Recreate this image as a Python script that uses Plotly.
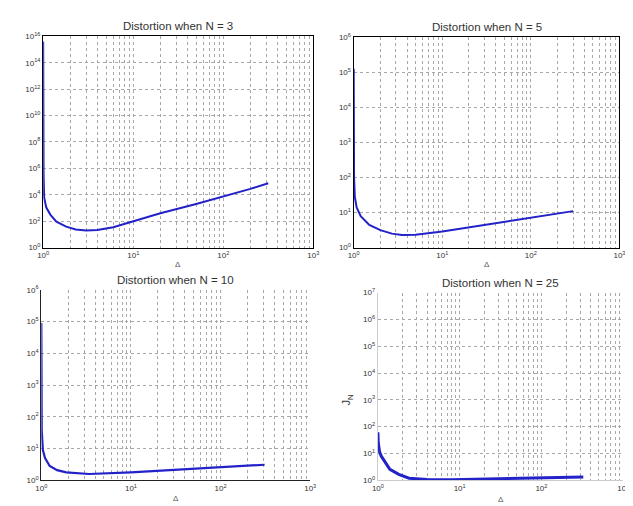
import plotly.graph_objects as go

# ---------------- data ----------------
titles = ["Distortion when N = 3", "Distortion when N = 5",
          "Distortion when N = 10", "Distortion when N = 25"]

x_n3 = [1.0, 1.002, 1.01, 1.025, 1.08, 1.2, 1.4, 1.8, 2.3, 3.0, 4.0, 6.0, 10, 20, 50, 100, 200, 316]
y_n3 = [3.98e15, 1e10, 3.16e5, 6310, 1122, 316, 91, 39, 24, 19.5, 21.4, 35.5, 100, 398, 1995, 7080, 28200, 74100]

x_n5 = [1.0, 1.002, 1.01, 1.03, 1.08, 1.2, 1.5, 2.0, 2.7, 3.5, 5, 10, 20, 50, 100, 300]
y_n5 = [1.26e5, 3160, 100, 28.2, 14.1, 7.9, 4.47, 3.16, 2.51, 2.29, 2.34, 2.88, 3.8, 5.37, 7.24, 11.0]

x_n10 = [1.0, 1.002, 1.01, 1.04, 1.1, 1.24, 1.5, 1.9, 3.4, 10, 30, 100, 310]
y_n10 = [8.9e4, 1000, 39.8, 8.9, 5.0, 2.82, 2.09, 1.78, 1.58, 1.78, 2.09, 2.51, 3.09]

x_n25 = [1.0, 1.01, 1.05, 1.1, 1.4, 1.8, 2.4, 4, 8, 20, 60, 325]
y_n25 = [61.7, 25.1, 11.2, 7.94, 2.57, 1.66, 1.20, 1.07, 1.05, 1.10, 1.17, 1.32]

x_decades = [0, 1, 2, 3]
x_minor_mult = [2, 3, 4, 5, 6, 7, 8, 9]
y_decades_n3 = [0, 2, 4, 6, 8, 10, 12, 14, 16]
y_decades_n5 = [0, 1, 2, 3, 4, 5, 6]
y_decades_n10 = [0, 1, 2, 3, 4, 5, 6]
y_decades_n25 = [0, 1, 2, 3, 4, 5, 6, 7]

# ---------------- figure ----------------
FONT = "Liberation Sans, Arial, sans-serif"
BLUE = "#2222c8"
GRID = "#a8a8a8"

fig = go.Figure()
series = [(x_n3, y_n3, 2), (x_n5, y_n5, 2), (x_n10, y_n10, 2.2), (x_n25, y_n25, 3)]
for i, (xs, ys, w) in enumerate(series):
    sfx = "" if i == 0 else str(i + 1)
    fig.add_trace(go.Scatter(x=xs, y=ys, mode="lines",
                             line=dict(color=BLUE, width=w),
                             xaxis="x" + sfx, yaxis="y" + sfx,
                             showlegend=False, hoverinfo="skip"))

def sup(e):
    return "10<sup>%d</sup>" % e

x_major = [10 ** d for d in x_decades]
x_minor = [m * 10 ** d for d in x_decades[:-1] for m in x_minor_mult]

domains = [
    ([0.047, 0.482], [0.528, 0.955]),
    ([0.547, 0.975], [0.528, 0.953]),
    ([0.044, 0.477], [0.058, 0.443]),
    ([0.586, 0.981], [0.058, 0.437]),
]
ydecs = [y_decades_n3, y_decades_n5, y_decades_n10, y_decades_n25]
linecols = ["black", "black", "#222222", "#cccccc"]
xlabel_y = [0.494, 0.494, 0.022, 0.02]

layout = dict(width=633, height=506, margin=dict(l=0, r=0, t=0, b=0),
              paper_bgcolor="white", plot_bgcolor="white",
              font=dict(family=FONT, size=8, color="#333"))
annotations = []
for i in range(4):
    sfx = "" if i == 0 else str(i + 1)
    xd, yd = domains[i]
    yd_list = ydecs[i]
    layout["xaxis" + sfx] = dict(
        domain=xd, type="log", range=[0, 3], anchor="y" + sfx,
        tickmode="array", tickvals=x_major, ticktext=[sup(d) for d in x_decades],
        showgrid=True, gridcolor=GRID, gridwidth=1, griddash="dot",
        minor=dict(tickmode="array", tickvals=x_minor, showgrid=True,
                   gridcolor=GRID, gridwidth=1, griddash="dot", ticks=""),
        showline=True, linecolor=linecols[i], linewidth=1.3,
        mirror=(i < 2), ticks="", zeroline=False,
        tickfont=dict(size=8, color="#333"))
    layout["yaxis" + sfx] = dict(
        domain=yd, type="log", range=[yd_list[0], yd_list[-1]], anchor="x" + sfx,
        tickmode="array", tickvals=[10 ** e for e in yd_list],
        ticktext=[sup(e) for e in yd_list],
        showgrid=True, gridcolor=GRID, gridwidth=1, griddash="dot",
        showline=True, linecolor=linecols[i], linewidth=1.3,
        mirror=(i < 2), ticks="", zeroline=False,
        tickfont=dict(size=8, color="#333"))
    annotations.append(dict(text=titles[i], xref="paper", yref="paper",
                            x=(xd[0] + xd[1]) / 2, y=yd[1] + 0.004,
                            xanchor="center", yanchor="bottom", showarrow=False,
                            font=dict(size=11.5, color="#333", family=FONT)))
    annotations.append(dict(text="Δ", xref="paper", yref="paper",
                            x=(xd[0] + xd[1]) / 2, y=xlabel_y[i],
                            xanchor="center", yanchor="middle", showarrow=False,
                            font=dict(size=8, color="#555", family=FONT)))

annotations.append(dict(text="J<sub>N</sub>", xref="paper", yref="paper",
                        x=0.537, y=0.22, xanchor="center", yanchor="middle",
                        showarrow=False, textangle=-90,
                        font=dict(size=11, color="#333", family=FONT)))
layout["annotations"] = annotations
fig.update_layout(**layout)
fig.write_html("out.html")
